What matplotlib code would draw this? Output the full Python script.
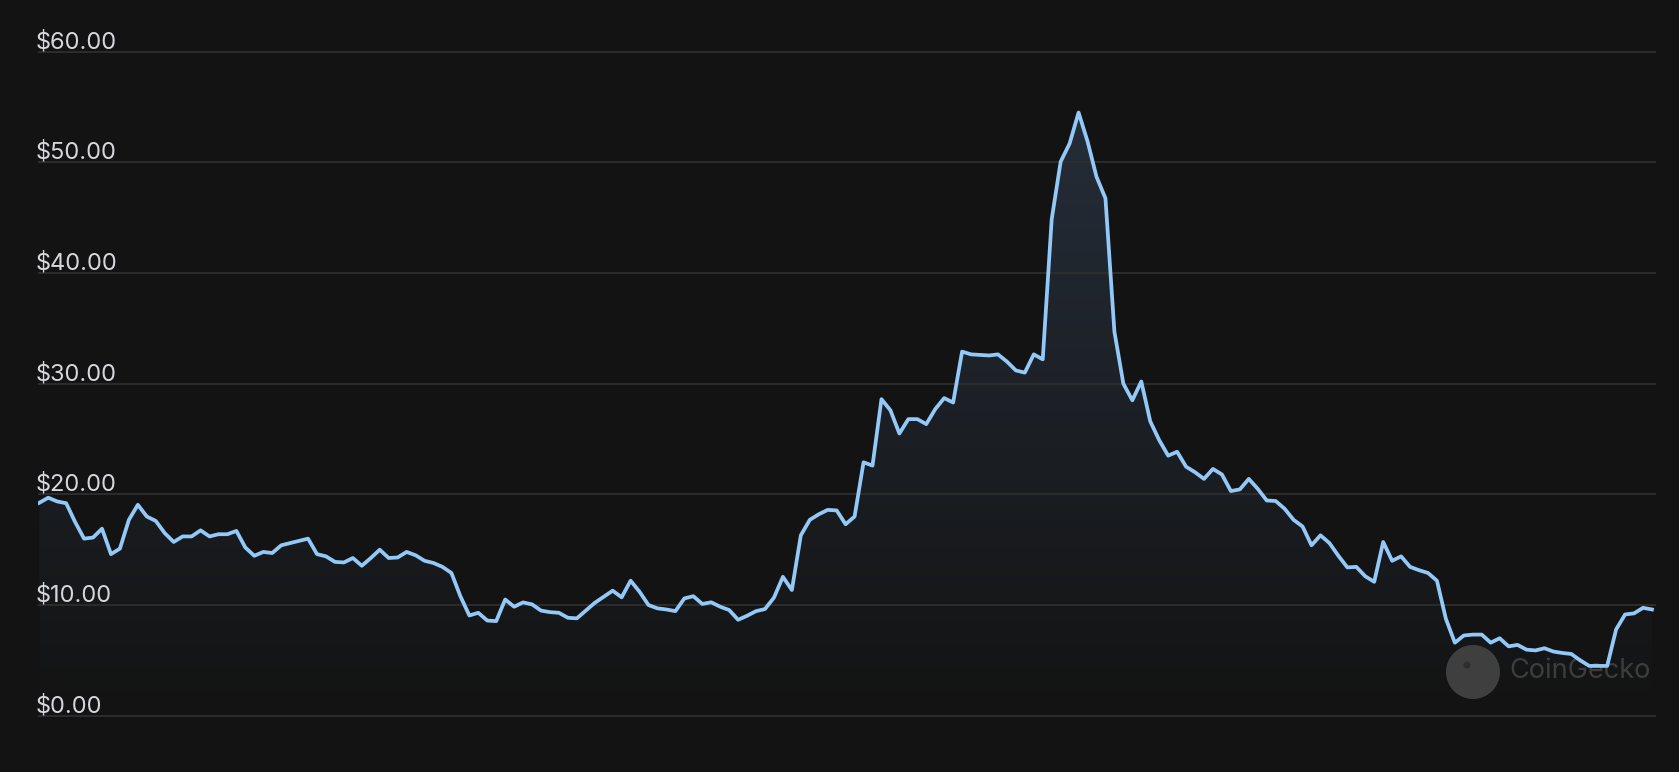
import numpy as np
import matplotlib.pyplot as plt
from matplotlib.colors import LinearSegmentedColormap
from matplotlib.patches import Circle
from matplotlib.transforms import IdentityTransform

# daily price
prices = [
    19.24, 19.7, 19.36, 19.2, 17.5, 16.0, 16.1, 16.9, 14.6, 15.1,
    17.7, 19.06, 18.0, 17.6, 16.5, 15.7, 16.2, 16.2, 16.75, 16.2,
    16.4, 16.4, 16.7, 15.2, 14.45, 14.8, 14.7, 15.4, 15.6, 15.8,
    16.0, 14.6, 14.4, 13.9, 13.85, 14.25, 13.55, 14.25, 15.0, 14.25,
    14.3, 14.8, 14.5, 14.0, 13.8, 13.45, 12.9, 10.8, 9.06, 9.3,
    8.6, 8.55, 10.5, 9.85, 10.24, 10.06, 9.5, 9.36, 9.3, 8.85,
    8.8, 9.5, 10.2, 10.75, 11.3, 10.7, 12.2, 11.2, 10.0, 9.7,
    9.6, 9.45, 10.6, 10.8, 10.1, 10.25, 9.85, 9.55, 8.67, 9.03,
    9.45, 9.64, 10.67, 12.55, 11.36, 16.3, 17.7, 18.2, 18.6, 18.55,
    17.3, 18.0, 22.9, 22.6, 28.6, 27.6, 25.5, 26.8, 26.8, 26.35,
    27.7, 28.7, 28.3, 32.9, 32.65, 32.6, 32.55, 32.65, 32.0, 31.2,
    31.0, 32.65, 32.2, 44.85, 50.06, 51.7, 54.5, 51.9, 48.7, 46.75,
    34.7, 30.0, 28.5, 30.2, 26.6, 24.9, 23.5, 23.85, 22.5, 22.0,
    21.4, 22.3, 21.8, 20.3, 20.45, 21.4, 20.5, 19.45, 19.4, 18.7,
    17.7, 17.1, 15.4, 16.3, 15.6, 14.45, 13.4, 13.45, 12.6, 12.1,
    15.7, 14.0, 14.4, 13.45, 13.15, 12.9, 12.2, 8.75, 6.6, 7.25,
    7.33, 7.33, 6.6, 7.0, 6.27, 6.4, 5.97, 5.9, 6.1, 5.8,
    5.67, 5.58, 5.0, 4.5, 4.5, 4.5, 7.8, 9.15, 9.25, 9.75,
    9.6,
]
tick_values = [0, 10, 20, 30, 40, 50, 60]
tick_labels = ['$0.00', '$10.00', '$20.00', '$30.00', '$40.00', '$50.00', '$60.00']
watermark = 'CoinGecko'

BG = '#131313'
LINE = '#93c9f8'
GRID = '#303030'
TEXT = '#d6d6dc'

W, H = 1679, 772
fig = plt.figure(figsize=(W / 100, H / 100), dpi=100, facecolor=BG)
ax = fig.add_axes([37.5 / W, 1 - 726.8 / H, (1656 - 37.5) / W, (726.8 - 40.6) / H])
ax.set_facecolor(BG)

x = np.arange(len(prices))

# gradient area under the line
poly = ax.fill_between(x, prices, 0, color='none', lw=0)
grad = np.linspace(0, 1, 256).reshape(-1, 1)
cmap = LinearSegmentedColormap.from_list('fade', [BG, '#252d38'])
im = ax.imshow(grad, extent=[x[0], x[-1], 0, max(prices)], origin='lower',
               aspect='auto', cmap=cmap, zorder=2, interpolation='bilinear')
im.set_clip_path(poly.get_paths()[0], transform=ax.transData)

for v, lbl in zip(tick_values, tick_labels):
    ax.axhline(v, color=GRID, lw=1.2, zorder=3)
    ax.annotate(lbl, xy=(0, v), xycoords=('axes fraction', 'data'),
                xytext=(-1, 2.5), textcoords='offset points',
                ha='left', va='baseline', fontsize=17, color=TEXT,
                family=['Inter', 'DejaVu Sans'], zorder=5)

# watermark
ax.add_patch(Circle((1473, H - 672), 27, transform=IdentityTransform(),
                    facecolor='#474747', edgecolor='none', alpha=0.85, zorder=3.5))
ax.add_patch(Circle((1467, H - 665), 3.5, transform=IdentityTransform(),
                    facecolor='#2e2e2e', edgecolor='none', zorder=3.6))
ax.text(1509, H - 671, watermark, transform=IdentityTransform(),
        ha='left', va='center', fontsize=19.5, color='#3d3d3d',
        family=['Inter', 'DejaVu Sans'], zorder=3.5)

ax.plot(x, prices, color=LINE, lw=2.7, solid_joinstyle='round', zorder=4)

ax.set_xlim(-0.2, len(prices) - 1 + 0.45)
ax.set_ylim(-1, 61)
ax.axis('off')

fig.savefig('out.png', dpi=100, facecolor=BG)
